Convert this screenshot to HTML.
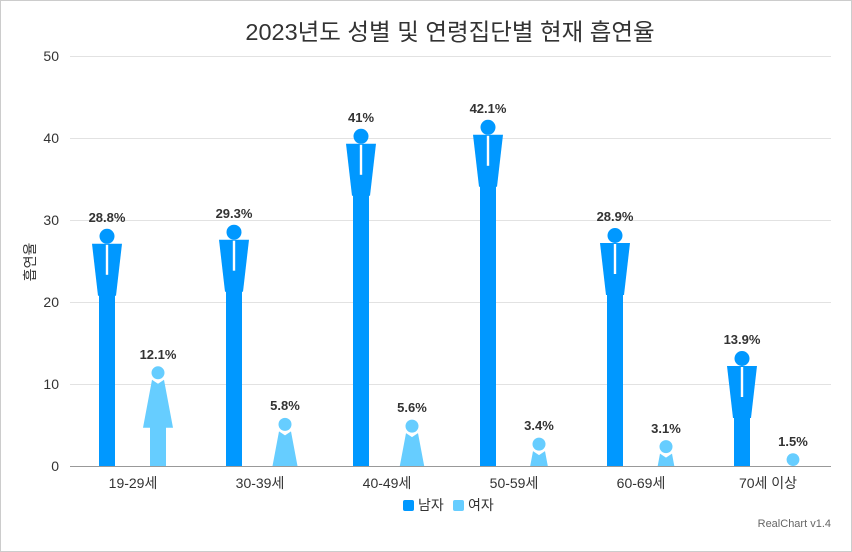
<!DOCTYPE html>
<html><head><meta charset="utf-8"><style>
html,body{margin:0;padding:0;background:#fff;width:852px;height:552px;overflow:hidden}
svg{display:block;font-family:"Liberation Sans","Noto Sans CJK KR",sans-serif}
</style></head><body>
<svg width="852" height="552" viewBox="0 0 852 552" xmlns="http://www.w3.org/2000/svg">
<rect x="0.5" y="0.5" width="851" height="551" fill="#fff" stroke="#ccc"/>
<text x="450" y="40" text-anchor="middle" font-size="23.5" fill="#333">2023년도 성별 및 연령집단별 현재 흡연율</text>
<g stroke="#e2e2e2" stroke-width="1">
<line x1="70" y1="56.5" x2="831" y2="56.5"/><line x1="70" y1="138.5" x2="831" y2="138.5"/><line x1="70" y1="220.5" x2="831" y2="220.5"/><line x1="70" y1="302.5" x2="831" y2="302.5"/><line x1="70" y1="384.5" x2="831" y2="384.5"/>
</g>
<g font-size="14" fill="#333" text-anchor="end">
<text x="59" y="61">50</text><text x="59" y="143">40</text><text x="59" y="225">30</text><text x="59" y="307">20</text><text x="59" y="389">10</text><text x="59" y="471">0</text>
</g>
<text transform="translate(35,262) rotate(-90)" text-anchor="middle" font-size="14" fill="#333">흡연율</text>
<defs>
<g id="m"><circle cx="0" cy="6.5" r="7.5"/><path d="M-15,14 L15,14 L9,66 L-9,66 Z"/><rect x="-1.2" y="15" width="2.4" height="30" fill="#fff"/></g>
<g id="f"><circle cx="0" cy="6" r="6.5"/><path d="M-6,13 L0,17 L6,13 L15,61 L-15,61 Z"/></g>
</defs>
<g fill="#0098ff">
<rect x="99" y="289.8" width="16" height="176.2"/><use href="#m" transform="translate(107,229.8)"/>
<rect x="226" y="285.7" width="16" height="180.3"/><use href="#m" transform="translate(234,225.7)"/>
<rect x="353" y="189.8" width="16" height="276.2"/><use href="#m" transform="translate(361,129.8)"/>
<rect x="480" y="180.8" width="16" height="285.2"/><use href="#m" transform="translate(488,120.8)"/>
<rect x="607" y="289" width="16" height="177"/><use href="#m" transform="translate(615,229)"/>
<rect x="734" y="412" width="16" height="54"/><use href="#m" transform="translate(742,352)"/>
</g>
<g fill="#66cdff">
<rect x="150" y="424.8" width="16" height="41.2"/><use href="#f" transform="translate(158,366.8)"/>
<circle cx="285" cy="424.4" r="6.5"/><path d="M279,431.4 L285,435.4 L291,431.4 L297.5,466 L272.5,466 Z"/>
<circle cx="412" cy="426.1" r="6.5"/><path d="M406,433.1 L412,437.1 L418,433.1 L424.2,466 L399.8,466 Z"/>
<circle cx="539" cy="444.1" r="6.5"/><path d="M533,451.1 L539,455.1 L545,451.1 L547.8,466 L530.2,466 Z"/>
<circle cx="666" cy="446.6" r="6.5"/><path d="M660,453.6 L666,457.6 L672,453.6 L674.3,466 L657.7,466 Z"/>
<circle cx="793" cy="459.6" r="6.4"/>
</g>
<line x1="70" y1="466.5" x2="831" y2="466.5" stroke="#999"/>
<g font-size="13" font-weight="bold" fill="#333" text-anchor="middle">
<text x="107" y="222">28.8%</text><text x="234" y="218">29.3%</text><text x="361" y="122">41%</text><text x="488" y="113">42.1%</text><text x="615" y="221">28.9%</text><text x="742" y="344">13.9%</text>
<text x="158" y="359">12.1%</text><text x="285" y="410">5.8%</text><text x="412" y="412">5.6%</text><text x="539" y="430">3.4%</text><text x="666" y="433">3.1%</text><text x="793" y="446">1.5%</text>
</g>
<g font-size="14" fill="#333" text-anchor="middle">
<text x="133" y="488">19-29세</text><text x="260" y="488">30-39세</text><text x="387" y="488">40-49세</text><text x="514" y="488">50-59세</text><text x="641" y="488">60-69세</text><text x="768" y="488">70세 이상</text>
</g>
<rect x="403" y="500" width="11" height="11" rx="2" fill="#0098ff"/>
<text x="418" y="510" font-size="14" fill="#333">남자</text>
<rect x="453" y="500" width="11" height="11" rx="2" fill="#66cdff"/>
<text x="468" y="510" font-size="14" fill="#333">여자</text>
<text x="831" y="527" text-anchor="end" font-size="11" fill="#666">RealChart v1.4</text>
</svg>
</body></html>
